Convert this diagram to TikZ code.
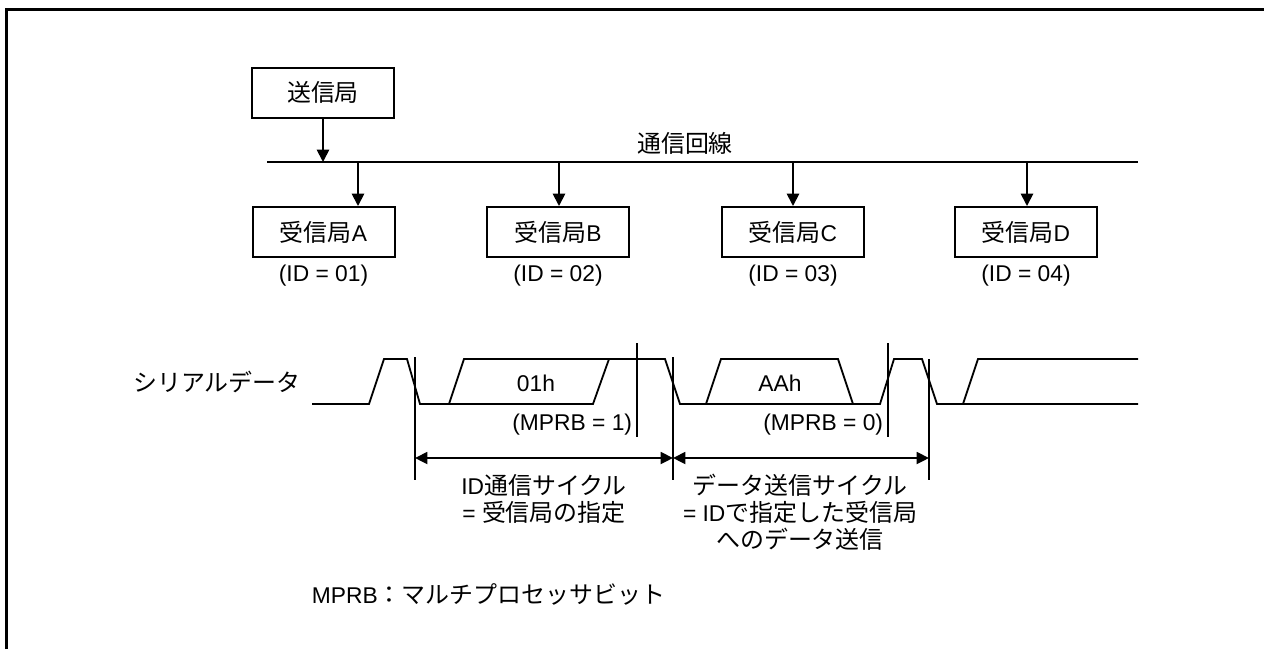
\documentclass[tikz,border=0pt]{standalone}
\usepackage{fontspec}
\setmainfont{Liberation Sans}
\newfontfamily\jp{Noto Sans CJK JP}[Scale=1.05]
\newcommand\J[1]{{\jp #1}}
\usetikzlibrary{arrows.meta}
\begin{document}
\begin{tikzpicture}[x=0.5pt,y=-0.5pt,
  font=\fontsize{11.4}{13.5}\selectfont,
  line width=0.9pt,
  stationbox/.style={draw,line width=1pt,minimum width=71pt,minimum height=25pt,inner sep=0pt},
  lbl/.style={inner sep=0pt},
  arr/.style={-{Triangle[length=6.2pt,width=6.2pt]}},
  darr/.style={{Triangle[length=6.2pt,width=6pt]}-{Triangle[length=6.2pt,width=6pt]}},
  wave/.style={line width=0.9pt,line join=miter},
  frameline/.style={line width=1.5pt}]
\useasboundingbox (0,0) rectangle (1264,649);
% frame (top and left edges visible)
\draw[frameline] (6.5,649) -- (6.5,9.5) -- (1264,9.5);

% stations
\node[stationbox] (tx) at (323,92.5) {\J{送信局}};
\node[stationbox] (ra) at (323.5,232) {\J{受信局}A};
\node[stationbox] (rb) at (558,232) {\J{受信局}B};
\node[stationbox] (rc) at (793,232) {\J{受信局}C};
\node[stationbox] (rd) at (1026,232) {\J{受信局}D};
\node[lbl] (ia) at (323.5,276) {(ID = 01)};
\node[lbl] (ib) at (558,276) {(ID = 02)};
\node[lbl] (ic) at (793,276) {(ID = 03)};
\node[lbl] (id) at (1026,276) {(ID = 04)};

% bus
\coordinate (busL) at (267,162);
\coordinate (busR) at (1138,162);
\draw (busL) -- (busR);
\node[lbl] (buslbl) at (685,143) {\J{通信回線}};
\coordinate (btx) at (323,162);
\coordinate (ba) at (358,162);
\coordinate (bb) at (559,162);
\coordinate (bc) at (793,162);
\coordinate (bd) at (1027,162);
\draw[arr] (tx.south) -- (btx);
\draw[arr] (ba) -- (ba |- ra.north);
\draw[arr] (bb) -- (bb |- rb.north);
\draw[arr] (bc) -- (bc |- rc.north);
\draw[arr] (bd) -- (bd |- rd.north);

% serial data waveform
\node[lbl] (sdlbl) at (217,382) {\J{シリアルデータ}};
\draw[wave] (312,404) -- (369,404) -- (384,359) -- (407,359) -- (420,404) -- (593,404) -- (609,359);
\draw[wave] (449,404) -- (464,359) -- (665,359) -- (680,404) -- (880,404) -- (894,359) -- (922,359) -- (937,404) -- (1138,404);
\draw[wave] (706,404) -- (721,359) -- (838,359) -- (853,404);
\draw[wave] (963,404) -- (978,359) -- (1138,359);
\node[lbl] (d1) at (536,383) {01h};
\node[lbl] (d2) at (780,383) {AAh};
\node[lbl,anchor=east] (m1) at (633,425) {(MPRB = 1)};
\node[lbl,anchor=east] (m0) at (884,425) {(MPRB = 0)};

% marker lines
\coordinate (v1t) at (415,357); \coordinate (v1b) at (415,480);
\coordinate (v2t) at (637,343); \coordinate (v2b) at (637,437);
\coordinate (v3t) at (673,357); \coordinate (v3b) at (673,480);
\coordinate (v5t) at (888,343); \coordinate (v5b) at (888,437);
\coordinate (v4t) at (929,359); \coordinate (v4b) at (929,480);
\draw (v1t) -- (v1b);
\draw (v2t) -- (v2b);
\draw (v3t) -- (v3b);
\draw (v5t) -- (v5b);
\draw (v4t) -- (v4b);
\coordinate (a1) at (415,458);
\coordinate (a3) at (673,458);
\coordinate (a4) at (929,458);
\draw[darr] (a1) -- (a3);
\draw[darr] (a3) -- (a4);

% cycle labels
\node[lbl,align=center] (c1) at (544,498.5) {ID\J{通信サイクル}\\= \J{受信局の指定}};
\node[lbl,align=center] (c2) at (800,512) {\J{データ送信サイクル}\\= ID\J{で指定した受信局}\\\J{へのデータ送信}};

% legend
\node[lbl,anchor=west] (legend) at (311,594) {MPRB\J{：マルチプロセッサビット}};
\end{tikzpicture}
\end{document}
